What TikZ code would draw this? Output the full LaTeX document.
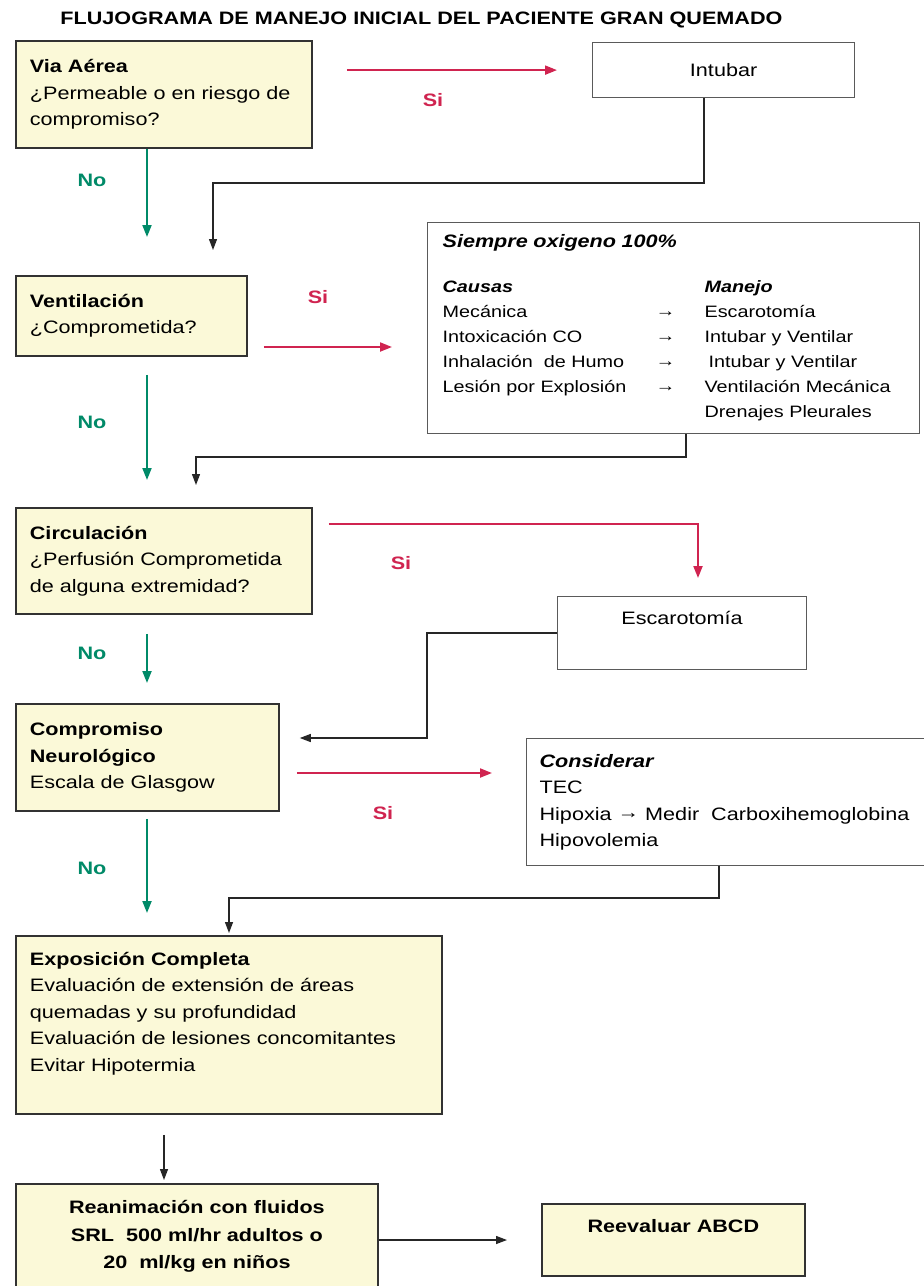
\documentclass[tikz,border=0pt]{standalone}
\usepackage{fontspec}
\setmainfont{Liberation Sans}[FakeStretch=1.2]
\usetikzlibrary{arrows.meta}
\definecolor{boxyellow}{RGB}{251,249,216}
\definecolor{arrred}{RGB}{208,36,80}
\definecolor{arrgreen}{RGB}{0,138,104}
\definecolor{boxline}{RGB}{50,50,50}
\definecolor{thinline}{RGB}{90,90,90}
\newcommand{\smarr}{\raisebox{1pt}{→}}
\newcommand{\hxarr}{\raisebox{1.5pt}{→}}
\begin{document}
\begin{tikzpicture}[x=1pt,y=-1pt,
  every node/.style={font=\fontsize{18}{26.5}\selectfont},
  ybox/.style={draw=boxline, line width=1.8pt, fill=boxyellow, anchor=north west, align=left, inner xsep=14pt, inner ysep=0pt},
  wbox/.style={draw=thinline, line width=1.2pt, fill=white, anchor=north west, align=center, inner sep=0pt},
  redarr/.style={draw=arrred, line width=2pt, -{Triangle[length=12pt,width=9pt]}},
  greenarr/.style={draw=arrgreen, line width=2pt, -{Triangle[length=12pt,width=9pt]}},
  blkarr/.style={draw=black!85, line width=1.3pt, -{Triangle[length=11pt,width=8pt]}},
  silbl/.style={text=arrred, font=\fontsize{18}{20}\selectfont\bfseries},
  nolbl/.style={text=arrgreen, font=\fontsize{18}{20}\selectfont\bfseries},
]
\useasboundingbox[fill=white] (0,0) rectangle (924,1286);

\node[font=\fontsize{18}{20}\selectfont\bfseries] (title) at (421.5,20) {FLUJOGRAMA DE MANEJO INICIAL DEL PACIENTE GRAN QUEMADO};

\node[ybox, text width=268pt, minimum height=107pt] (via) at (15,40)
  {\textbf{Via Aérea}\\¿Permeable o en riesgo de\\compromiso?};
\node[wbox, minimum width=262pt, minimum height=55pt] (intubar) at (592,42) {Intubar};

\node[ybox, text width=203pt, minimum height=80pt] (vent) at (15,275)
  {\textbf{Ventilación}\\¿Comprometida?};

\node[draw=thinline, line width=1.2pt, fill=white, anchor=north west, align=left,
      inner xsep=15pt, inner ysep=0pt, text width=462pt, minimum height=211pt,
      font=\fontsize{16.5}{25}\selectfont] (siempre) at (427,222)
  {{\fontsize{18}{25}\selectfont\textbf{\textit{Siempre oxigeno 100\%}}}\\[20pt]
   \makebox[262pt][l]{\textbf{\textit{Causas}}}\textbf{\textit{Manejo}}\\
   \makebox[213pt][l]{Mecánica}\makebox[49pt][l]{\smarr}Escarotomía\\
   \makebox[213pt][l]{Intoxicación CO}\makebox[49pt][l]{\smarr}Intubar y Ventilar\\
   \makebox[213pt][l]{Inhalación\ \ de Humo}\makebox[49pt][l]{\smarr}\hspace{4pt}Intubar y Ventilar\\
   \makebox[213pt][l]{Lesión por Explosión}\makebox[49pt][l]{\smarr}Ventilación Mecánica\\
   \makebox[262pt][l]{}Drenajes Pleurales};

\node[ybox, text width=268pt, minimum height=106pt] (circ) at (15,507)
  {\textbf{Circulación}\\¿Perfusión Comprometida\\de alguna extremidad?};
\node[wbox, minimum width=249pt, minimum height=73pt, text depth=31pt] (escaro) at (557,596) {Escarotomía};

\node[ybox, text width=235pt, minimum height=107pt] (comp) at (15,703)
  {\textbf{Compromiso}\\\textbf{Neurológico}\\Escala de Glasgow};
\node[draw=thinline, line width=1.2pt, fill=white, anchor=north west, align=left,
      inner xsep=13pt, inner ysep=0pt, text width=385pt, minimum height=127pt] (consid) at (526,738)
  {\textbf{\textit{Considerar}}\\TEC\\Hipoxia \hxarr\ Medir\ \ Carboxihemoglobina\\Hipovolemia};

\node[ybox, text width=398pt, minimum height=178pt] (expo) at (15,935)
  {\textbf{Exposición Completa}\\Evaluación de extensión de áreas\\quemadas y su profundidad\\Evaluación de lesiones concomitantes\\Evitar Hipotermia\\\mbox{}};

\node[ybox, align=center, text width=334pt, minimum height=105pt,
      font=\fontsize{18}{27.5}\selectfont\bfseries] (reanim) at (15,1183)
  {Reanimación con fluidos\\SRL\ \ 500 ml/hr adultos o\\20\ \ ml/kg en niños};
\node[ybox, align=center, minimum width=263pt, minimum height=72pt, text depth=28pt,
      font=\fontsize{18}{20}\selectfont\bfseries] (reeval) at (541,1203) {Reevaluar ABCD};

% red (Si) connectors
\draw[redarr, shorten <=34pt, shorten >=35pt] (via.east |- intubar.west) -- (intubar.west);
\draw[redarr, shorten <=16pt, shorten >=35pt] (vent.east |- 0,347) -- (siempre.west |- 0,347);
\draw[redarr, shorten <=16pt, shorten >=18pt] (circ.east |- 0,524) -| (escaro.north -| 698,0);
\draw[redarr, shorten <=17pt, shorten >=34pt] (comp.east |- 0,773) -- (consid.west |- 0,773);

% green (No) connectors
\draw[greenarr, shorten >=38pt] (via.south -| 147,0) -- (vent.north -| 147,0);
\draw[greenarr, shorten <=18pt, shorten >=27pt] (vent.south -| 147,0) -- (circ.north -| 147,0);
\draw[greenarr, shorten <=19pt, shorten >=20pt] (circ.south -| 147,0) -- (comp.north -| 147,0);
\draw[greenarr, shorten <=7pt, shorten >=22pt] (comp.south -| 147,0) -- (expo.north -| 147,0);

% black return connectors
\draw[blkarr, shorten >=25pt] (intubar.south -| 704,0) |- (213,183) -- (vent.north -| 213,0);
\draw[blkarr, shorten >=22pt] (siempre.south -| 686,0) |- (196,457) -- (circ.north -| 196,0);
\draw[blkarr, shorten >=20pt] (escaro.west) -| (427,738) -- (comp.east |- 0,738);
\draw[blkarr, shorten >=2pt] (consid.south -| 719,0) |- (229,898) -- (expo.north -| 229,0);
\draw[blkarr, shorten <=20pt, shorten >=3pt] (expo.south -| 164,0) -- (reanim.north -| 164,0);
\draw[blkarr, shorten >=34pt] (reanim.east |- 0,1240) -- (reeval.west |- 0,1240);

% labels
\node[silbl] (si1) at (433,100) {Si};
\node[silbl] (si2) at (318,297) {Si};
\node[silbl] (si3) at (401,563) {Si};
\node[silbl] (si4) at (383,813) {Si};
\node[nolbl] (no1) at (92,180) {No};
\node[nolbl] (no2) at (92,422) {No};
\node[nolbl] (no3) at (92,653) {No};
\node[nolbl] (no4) at (92,868) {No};
\end{tikzpicture}
\end{document}
